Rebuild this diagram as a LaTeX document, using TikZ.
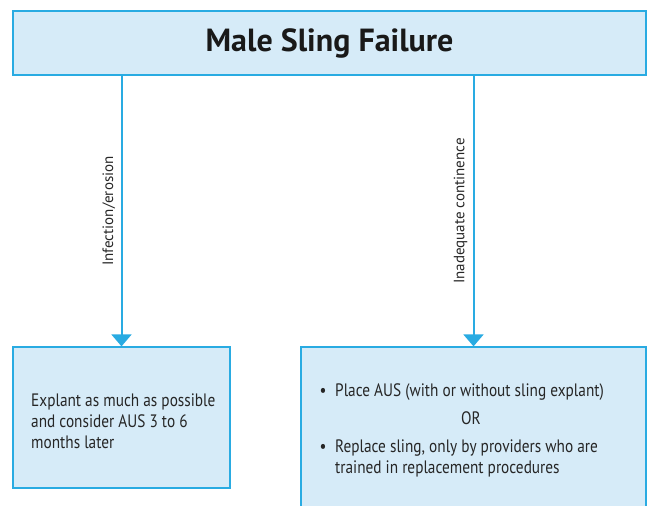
\documentclass[tikz,border=0pt]{standalone}
\usepackage{fontspec}
\setmainfont{PT Sans}
\newfontfamily\narrowfont{PT Sans}[FakeStretch=0.85]
\usetikzlibrary{positioning,arrows.meta}
\definecolor{slingline}{HTML}{29ABE2}
\definecolor{slingfill}{HTML}{D6EBF8}

\begin{document}
\begin{tikzpicture}[x=1pt,y=-1pt,
  box/.style={draw=slingline,fill=slingfill,line width=1.2pt,inner sep=0pt},
  flow/.style={draw=slingline,line width=2pt,-{Triangle[width=20pt,length=12pt]}},
  txt/.style={font=\narrowfont\fontsize{18}{21.5}\selectfont,align=left,inner sep=0pt,text=black!85},
  why/.style={font=\fontsize{15}{18}\selectfont,text=black!85,rotate=90,anchor=south,inner sep=0pt,yshift=6pt}]
\useasboundingbox (0,0) rectangle (651,506);
% boxes
\node[box,minimum width=633pt,minimum height=64pt] (fail) at (329.5,43) {};
\node[font=\fontsize{32}{36}\selectfont\bfseries,text=black!90] (title) at (fail.center) {Male Sling Failure};
\node[box,minimum width=217pt,minimum height=141pt] (infect) at (121.5,417.5) {};
\node[box,minimum width=345pt,minimum height=162pt] (cont) at (473.5,428) {};

% left box text
\node[txt,anchor=base west] (explant) at (31,406) {Explant as much as possible};
\node[txt,anchor=base west] (consider) at (31,427) {and consider AUS 3 to 6};
\node[txt,anchor=base west] (months) at (31,448) {months later};

% right box text
\node[txt,anchor=base] (dot1) at (323,396) {\textbullet};
\node[txt,anchor=base west] (place) at (335,396) {Place AUS (with or without sling explant)};
\node[txt,anchor=base] (or) at (471,424) {OR};
\node[txt,anchor=base] (dot2) at (323,452) {\textbullet};
\node[txt,anchor=base west] (replace) at (335,452) {Replace sling, only by providers who are};
\node[txt,anchor=base west] (trained) at (335,473) {trained in replacement procedures};

% arrows
\draw[flow] (fail.south -| infect.north) -- (infect.north);
\draw[flow] (fail.south -| cont.north) -- (cont.north);
\path (fail.south -| infect.north) -- node[why,midway] (lbl1) {Infection/erosion} (infect.north);
\path (fail.south -| cont.north) -- node[why,midway] (lbl2) {Inadequate continence} (cont.north);
\end{tikzpicture}
\end{document}
